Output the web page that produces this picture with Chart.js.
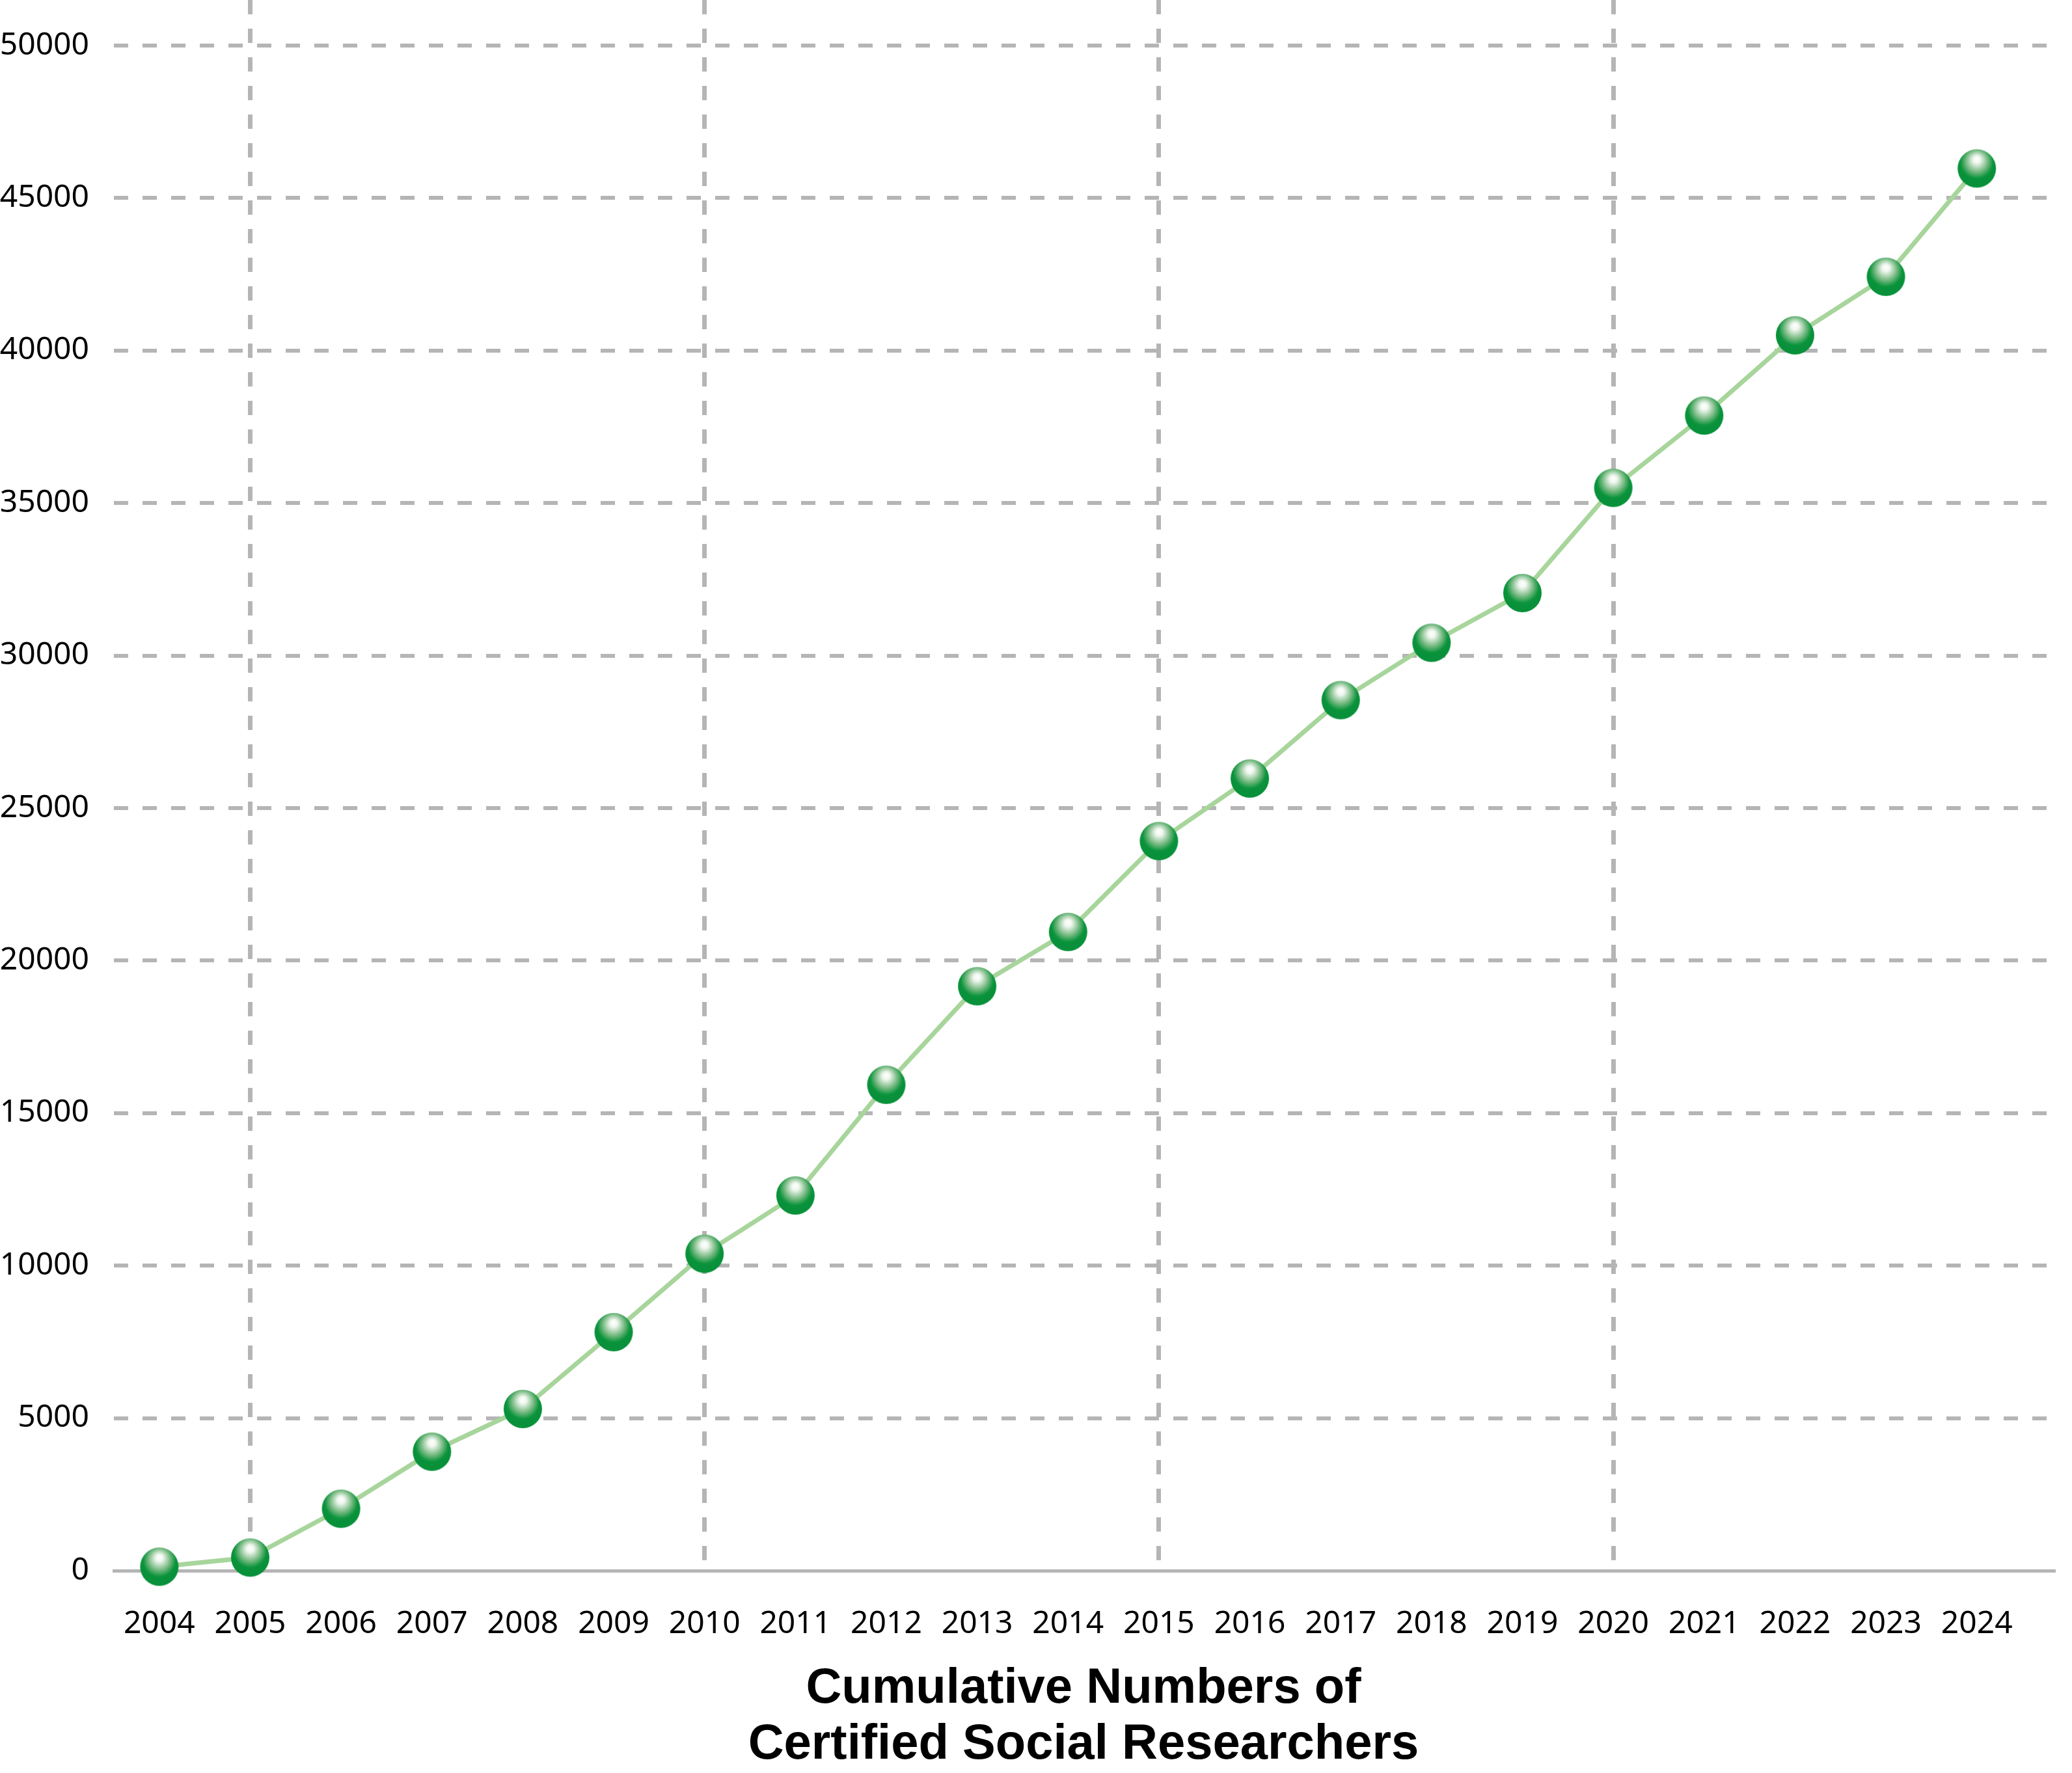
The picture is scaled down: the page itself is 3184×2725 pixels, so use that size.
<!DOCTYPE html>
<html>
<head>
<meta charset="utf-8">
<script src="https://cdn.jsdelivr.net/npm/chart.js@4.4.1/dist/chart.umd.min.js"></script>
<style>
  html, body { margin: 0; padding: 0; background: #fff; }
  canvas { display: block; }
</style>
</head>
<body>
<canvas id="myChart" width="3184" height="2725"></canvas>
<script>
// data
var years = [2004, 2005, 2006, 2007, 2008, 2009, 2010, 2011, 2012, 2013, 2014,
             2015, 2016, 2017, 2018, 2019, 2020, 2021, 2022, 2023, 2024]
var researchers = [130, 430, 2030, 3900, 5300, 7820, 10390, 12300, 15930, 19160, 20940,
                   23920, 25970, 28540, 30420, 32050, 35500, 37870, 40500, 42420, 45970]
var yTicks = [0, 5000, 10000, 15000, 20000, 25000, 30000, 35000, 40000, 45000, 50000]
var titleLines = ['Cumulative Numbers of', 'Certified Social Researchers']

var gridGray = '#b5b5b5'
var tickFont = {family: "'Noto Sans', sans-serif", size: 48}

//green glossy ball used as point style
function makeBall(r){
  var c = document.createElement('canvas')
  var s = Math.ceil(r * 2) + 2
  c.width = s
  c.height = s
  var g = c.getContext('2d')
  var cx = s / 2, cy = s / 2
  var grad = g.createRadialGradient(cx, cy - r * 0.5, 0, cx, cy - r * 0.3, r * 1.0)
  grad.addColorStop(0, '#ffffff')
  grad.addColorStop(0.18, '#f2f8f1')
  grad.addColorStop(0.55, '#7cbc86')
  grad.addColorStop(0.85, '#0c943c')
  grad.addColorStop(1, '#08913a')
  g.fillStyle = grad
  g.beginPath()
  g.arc(cx, cy, r, 0, Math.PI * 2)
  g.fill()
  return c
}

var ball = makeBall(29.5)
var points = years.map((y, i) => ({x: y, y: researchers[i]}))

var ctx = document.getElementById('myChart').getContext('2d')
var chart = new Chart(ctx, {
  type: 'line',
  data: {
    datasets: [{
      data: points,
      borderColor: '#a7d59b',
      borderWidth: 7,
      pointStyle: ball,
      pointRadius: 29.5,
      tension: 0,
      clip: false
    }]
  },
  options: {
    responsive: false,
    devicePixelRatio: 1,
    animation: false,
    layout: {autoPadding: false, padding: {top: 0, right: 29, bottom: 0, left: 0}},
    plugins: {
      legend: {display: false},
      tooltip: {enabled: false}
    },
    scales: {
      x: {
        type: 'linear',
        min: 2003.5,
        max: 2024.84,
        afterBuildTicks: scale => { scale.ticks = years.map(v => ({value: v})) },
        afterFit: scale => {
          scale.height = 311
          scale.paddingLeft = 0
          scale.paddingRight = 0
        },
        ticks: {
          color: '#000',
          font: tickFont,
          padding: 54,
          maxRotation: 0,
          autoSkip: false,
          callback: v => String(v)
        },
        grid: {
          drawTicks: false,
          lineWidth: 7,
          color: c => (c.tick && c.tick.value % 5 === 0) ? gridGray : 'rgba(0,0,0,0)'
        },
        border: {display: true, color: gridGray, width: 5, dash: [22, 22]},
        title: {
          display: true,
          text: titleLines,
          color: '#000',
          font: {family: "'Liberation Sans', Arial, sans-serif", weight: 'bold', size: 76, lineHeight: 1.13},
          padding: {top: 0, bottom: 0}
        }
      },
      y: {
        min: 0,
        max: 51493,
        afterBuildTicks: scale => { scale.ticks = yTicks.map(v => ({value: v})) },
        afterFit: scale => {
          scale.width = 175
          scale.paddingTop = 0
          scale.paddingBottom = 0
        },
        ticks: {
          color: '#000',
          font: tickFont,
          padding: 38,
          callback: v => String(v)
        },
        grid: {
          drawTicks: false,
          lineWidth: 6,
          color: c => (c.tick && c.tick.value === 0) ? 'rgba(0,0,0,0)' : gridGray
        },
        border: {display: false, dash: [22, 22]}
      }
    }
  }
})
</script>
</body>
</html>
